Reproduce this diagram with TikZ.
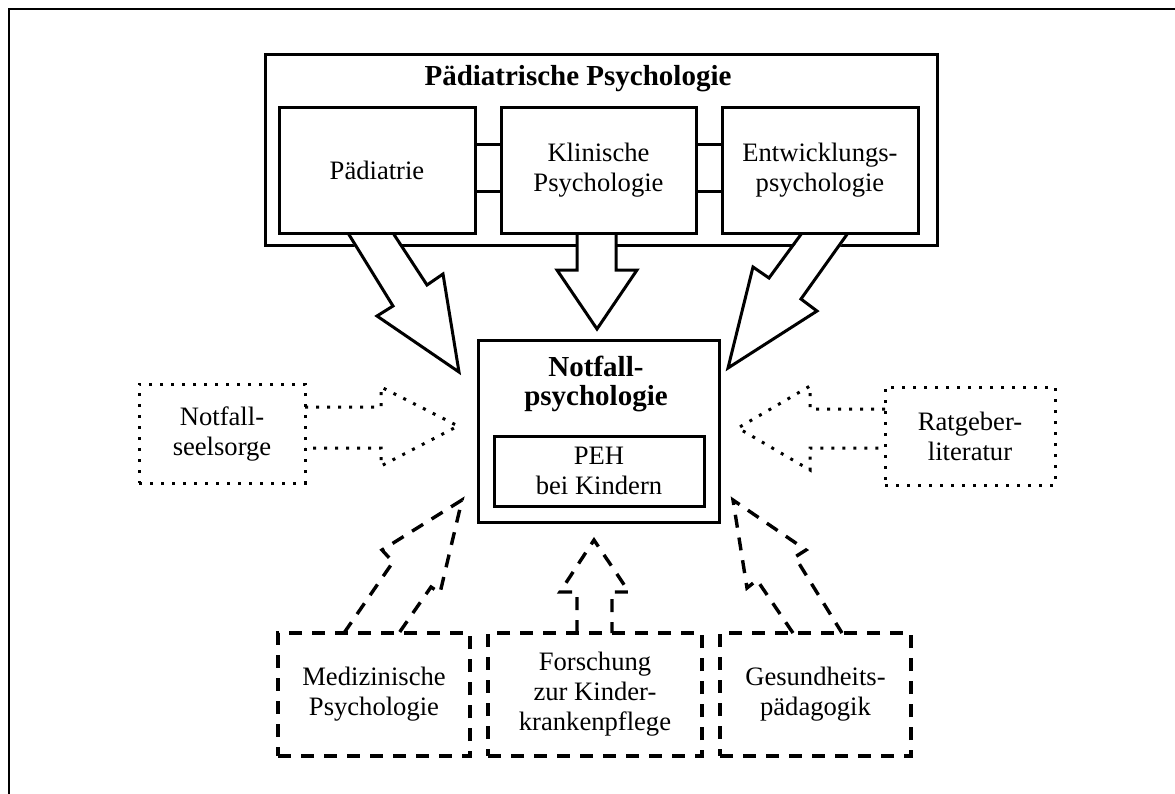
\documentclass[tikz,border=0pt]{standalone}
\usepackage{fontspec}
\setmainfont{Liberation Serif}
\usetikzlibrary{calc}
\begin{document}
\begin{tikzpicture}[x=0.5pt,y=-0.5pt,
  txt/.style={inner sep=0pt, align=center, font=\fontsize{13.3}{15}\selectfont},
  box/.style={txt, draw, line width=1.5pt},
  dotbox/.style={box, dash pattern=on 1.5pt off 4pt},
  dashbox/.style={box, line width=1.7pt, dash pattern=on 6.5pt off 5pt},
  heading/.style={inner sep=0pt, align=center, font=\fontsize{14.5}{14.5}\selectfont\bfseries},
  solidline/.style={draw, line width=1.5pt, line join=miter},
  dotline/.style={draw, line width=1.5pt, line join=miter, dash pattern=on 1.5pt off 4pt},
  dashline/.style={draw, line width=1.7pt, line join=miter, dash pattern=on 6.5pt off 5pt},
]
\useasboundingbox (0,0) rectangle (1175,794);

% page frame
\draw[line width=1pt] (9,794) -- (9,9) -- (1175,9);

% group box
\node[box, minimum width=336pt, minimum height=95.5pt] (pp) at (601,149.5) {};
\node[heading] (pptitle) at (578,79) {Pädiatrische Psychologie};

% wide block arrows leaving the group
\fill[white] (348,236) -- (393,306) -- (377,316) -- (459,372) -- (443,274) -- (427,285) -- (393,236) -- cycle;
\draw[solidline] (348,233) -- (393,306) -- (377,316) -- (459,372) -- (443,274) -- (427,285) -- (393,233);

\fill[white] (577,236) -- (577,270) -- (557,270) -- (597,329) -- (637,270) -- (616,270) -- (616,236) -- cycle;
\draw[solidline] (577,233) -- (577,270) -- (557,270) -- (597,329) -- (637,270) -- (616,270) -- (616,233);

\fill[white] (802,236) -- (769,278) -- (753,267) -- (728,368) -- (817,311) -- (801,299) -- (848,236) -- cycle;
\draw[solidline] (802,233) -- (769,278) -- (753,267) -- (728,368) -- (817,311) -- (801,299) -- (848,233);

% member boxes
\node[box, minimum width=98pt, minimum height=63pt] (pad) at (377,170) {Pädiatrie};
\node[box, minimum width=97.5pt, minimum height=63pt] (klin) at (598.5,170) {Klinische\\Psychologie};
\node[box, minimum width=98pt, minimum height=63pt] (entw) at (820,170) {Entwicklungs-\\psychologie};

% links between member boxes
\draw[line width=1.5pt] ($(pad.north east)!0.3!(pad.south east)$) -- ($(klin.north west)!0.3!(klin.south west)$);
\draw[line width=1.5pt] ($(pad.north east)!0.667!(pad.south east)$) -- ($(klin.north west)!0.667!(klin.south west)$);
\draw[line width=1.5pt] ($(klin.north east)!0.3!(klin.south east)$) -- ($(entw.north west)!0.3!(entw.south west)$);
\draw[line width=1.5pt] ($(klin.north east)!0.667!(klin.south east)$) -- ($(entw.north west)!0.667!(entw.south west)$);

% central box
\node[box, minimum width=120.5pt, minimum height=91pt] (notfall) at (598.5,431) {};
\node[heading] (nftitle) at (596,384) {Notfall-\\psychologie};
\node[box, minimum width=105pt, minimum height=35pt] (peh) at (599,471) {PEH\\bei Kindern};

% dotted side sources
\node[dotbox, minimum width=83pt, minimum height=49.5pt] (seel) at (222,433.5) {Notfall-\\seelsorge};
\node[dotbox, minimum width=85pt, minimum height=49pt] (ratg) at (970,436) {Ratgeber-\\literatur};

\draw[dotline] (305,407) -- (381,407) -- (381,387) -- (458,426) -- (381,466) -- (381,448) -- (305,448);
\draw[dotline] (885,409) -- (810,409) -- (810,386) -- (738,428) -- (810,470) -- (810,448) -- (885,448);

% dashed sources below
\node[dashbox, minimum width=96pt, minimum height=61.5pt] (med) at (374,694.5) {Medizinische\\Psychologie};
\node[dashbox, minimum width=107pt, minimum height=61.5pt] (forsch) at (595,694.5) {Forschung\\zur Kinder-\\krankenpflege};
\node[dashbox, minimum width=95.5pt, minimum height=61.5pt] (ges) at (815.5,694.5) {Gesundheits-\\pädagogik};

\draw[dashline] (344,633) -- (393,562) -- (382,550) -- (462,500) -- (440,593) -- (431,587) -- (399,633);
\draw[dashline] (577,633) -- (577,592) -- (560,592) -- (594,540) -- (629,592) -- (612,592) -- (612,633);
\draw[dashline] (793,633) -- (757,580) -- (747,588) -- (733,500) -- (806,550) -- (795,557) -- (842,633);
\end{tikzpicture}
\end{document}
